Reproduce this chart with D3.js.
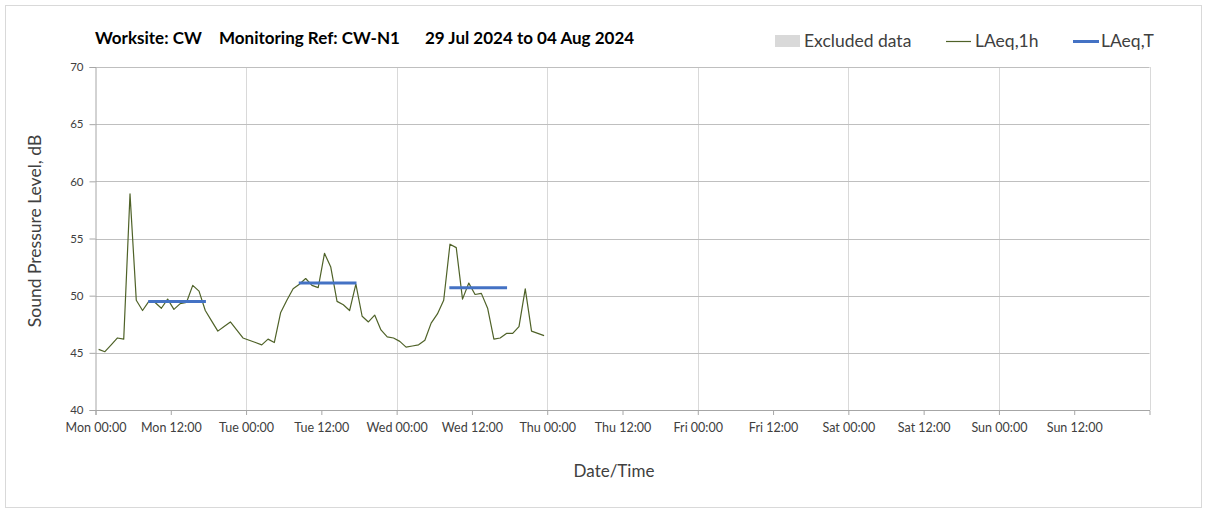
<!DOCTYPE html>
<html>
<head>
<meta charset="utf-8">
<script src="https://cdn.jsdelivr.net/npm/d3@7"></script>
<style>
  html, body { margin: 0; padding: 0; background: #fff; }
  svg { display: block; font-family: "Lato", "Open Sans", sans-serif; }
</style>
</head>
<body>
<svg id="chart" width="1208" height="508"></svg>
<script>
// ---------- data ----------
const titleParts = ["Worksite: CW", "Monitoring Ref: CW-N1", "29 Jul 2024 to 04 Aug 2024"];
const startDate = "2024-07-29T00:00:00Z";
const endDate = "2024-08-05T00:00:00Z";
// hourly LAeq,1h values, Mon 00:00 onward (each plotted at mid-hour)
const laeq1h = [
  45.3, 45.1, 45.7, 46.3, 46.2, 58.9, 49.6, 48.7, 49.5, 49.4, 48.9, 49.7,
  48.8, 49.3, 49.4, 50.9, 50.4, 48.7, 47.8, 46.9, 47.3, 47.7, 47.0, 46.3,
  46.1, 45.9, 45.7, 46.2, 45.9, 48.5, 49.6, 50.6, 51.0, 51.5, 50.9, 50.7,
  53.7, 52.5, 49.5, 49.2, 48.7, 51.0, 48.2, 47.7, 48.3, 47.0, 46.4, 46.3,
  46.0, 45.5, 45.6, 45.7, 46.1, 47.6, 48.4, 49.6, 54.5, 54.2, 49.7, 51.1,
  50.1, 50.2, 48.9, 46.2, 46.3, 46.7, 46.7, 47.3, 50.6, 46.9, 46.7, 46.5
];
// LAeq,T period values
const laeqTValues = [49.5, 51.1, 50.7];
const laeqTStart = ["2024-07-29T08:24:00Z", "2024-07-30T08:24:00Z", "2024-07-31T08:24:00Z"];
const laeqTEnd   = ["2024-07-29T17:36:00Z", "2024-07-30T17:36:00Z", "2024-07-31T17:36:00Z"];
const yTicks = [40, 45, 50, 55, 60, 65, 70];
const legendLabels = ["Excluded data", "LAeq,1h", "LAeq,T"];
const xAxisTitle = "Date/Time";
const yAxisTitle = "Sound Pressure Level, dB";

// ---------- layout ----------
const svg = d3.select("#chart");
const plot = { left: 95.5, right: 1149.5, top: 67, bottom: 410 };

svg.append("rect").attr("x", 5.5).attr("y", 5.5).attr("width", 1196).attr("height", 502)
  .attr("fill", "#fff").attr("stroke", "#d9d9d9");

const x = d3.scaleUtc().domain([new Date(startDate), new Date(endDate)]).range([plot.left, plot.right]);
const y = d3.scaleLinear().domain([40, 70]).range([plot.bottom, plot.top]);

const hourMs = 3600 * 1000;
const t0 = new Date(startDate).getTime();
const pts = laeq1h.map((v, i) => ({ t: new Date(t0 + (i + 0.5) * hourMs), v }));

// vertical gridlines at each day
const dayTicks = d3.utcDay.range(new Date(startDate), d3.utcDay.offset(new Date(endDate), 1));
svg.append("g").selectAll("line").data(dayTicks.slice(1)).join("line")
  .attr("x1", d => Math.round(x(d)) + 0.5).attr("x2", d => Math.round(x(d)) + 0.5)
  .attr("y1", plot.top).attr("y2", plot.bottom)
  .attr("stroke", "#d9d9d9").attr("stroke-width", 1);

// horizontal gridlines
svg.append("g").selectAll("line").data(yTicks.slice(1)).join("line")
  .attr("x1", plot.left).attr("x2", plot.right)
  .attr("y1", d => Math.round(y(d)) + 0.5).attr("y2", d => Math.round(y(d)) + 0.5)
  .attr("stroke", "#bfbfbf").attr("stroke-width", 1);

// y axis
const yAxis = svg.append("g").attr("transform", `translate(${plot.left},0)`)
  .call(d3.axisLeft(y).tickValues(yTicks).tickSize(6).tickPadding(6).tickFormat(d3.format("d")));
yAxis.select(".domain").attr("stroke", "#a6a6a6");
yAxis.selectAll(".tick line").attr("stroke", "#a6a6a6");
yAxis.selectAll(".tick text").attr("fill", "#404040").style("font-size", "11.5px")
  .style("font-family", "Lato, sans-serif");

// x axis
const xTicks = d3.utcHour.every(12).range(new Date(startDate), new Date(endDate));
const xAxis = svg.append("g").attr("transform", `translate(0,${plot.bottom})`)
  .call(d3.axisBottom(x).tickValues(xTicks).tickSize(5).tickPadding(8).tickFormat(d3.utcFormat("%a %H:%M")));
xAxis.select(".domain").attr("stroke", "#a6a6a6");
xAxis.selectAll(".tick line").attr("stroke", "#a6a6a6");
xAxis.selectAll(".tick text").attr("fill", "#404040").style("font-size", "12.5px")
  .style("font-family", "Lato, sans-serif");

// LAeq,1h line
svg.append("path").datum(pts)
  .attr("fill", "none").attr("stroke", "#4f6228").attr("stroke-width", 1.2)
  .attr("stroke-linejoin", "round")
  .attr("d", d3.line().x(d => x(d.t)).y(d => y(d.v)));

// LAeq,T lines
svg.append("g").selectAll("line").data(laeqTValues).join("line")
  .attr("x1", (d, i) => x(new Date(laeqTStart[i])))
  .attr("x2", (d, i) => x(new Date(laeqTEnd[i])))
  .attr("y1", d => y(d)).attr("y2", d => y(d))
  .attr("stroke", "#4472c4").attr("stroke-width", 3);

// title
const titleX = [95, 219, 425];
svg.append("g").selectAll("text").data(titleParts).join("text")
  .attr("x", (d, i) => titleX[i]).attr("y", 44)
  .attr("fill", "#000").style("font-weight", "bold").style("font-size", "17px")
  .text(d => d);

// legend
const lg = svg.append("g").style("font-size", "17.5px").attr("fill", "#404040");
lg.append("rect").attr("x", 775).attr("y", 35).attr("width", 25).attr("height", 12).attr("fill", "#d9d9d9");
lg.append("text").attr("x", 804).attr("y", 47).attr("fill", "#404040").text(legendLabels[0]);
lg.append("line").attr("x1", 946).attr("x2", 971).attr("y1", 41.5).attr("y2", 41.5)
  .attr("stroke", "#4f6228").attr("stroke-width", 1.2);
lg.append("text").attr("x", 975).attr("y", 47).attr("fill", "#404040").text(legendLabels[1]);
lg.append("line").attr("x1", 1073).attr("x2", 1099).attr("y1", 41.5).attr("y2", 41.5)
  .attr("stroke", "#4472c4").attr("stroke-width", 3);
lg.append("text").attr("x", 1101).attr("y", 47).attr("fill", "#404040").text(legendLabels[2]);

// axis titles
svg.append("text").attr("x", 614).attr("y", 477).attr("text-anchor", "middle")
  .attr("fill", "#404040").style("font-size", "17px").text(xAxisTitle);
svg.append("text").attr("transform", "translate(41,231) rotate(-90)").attr("text-anchor", "middle")
  .attr("fill", "#404040").style("font-size", "17.5px").text(yAxisTitle);
</script>
</body>
</html>
